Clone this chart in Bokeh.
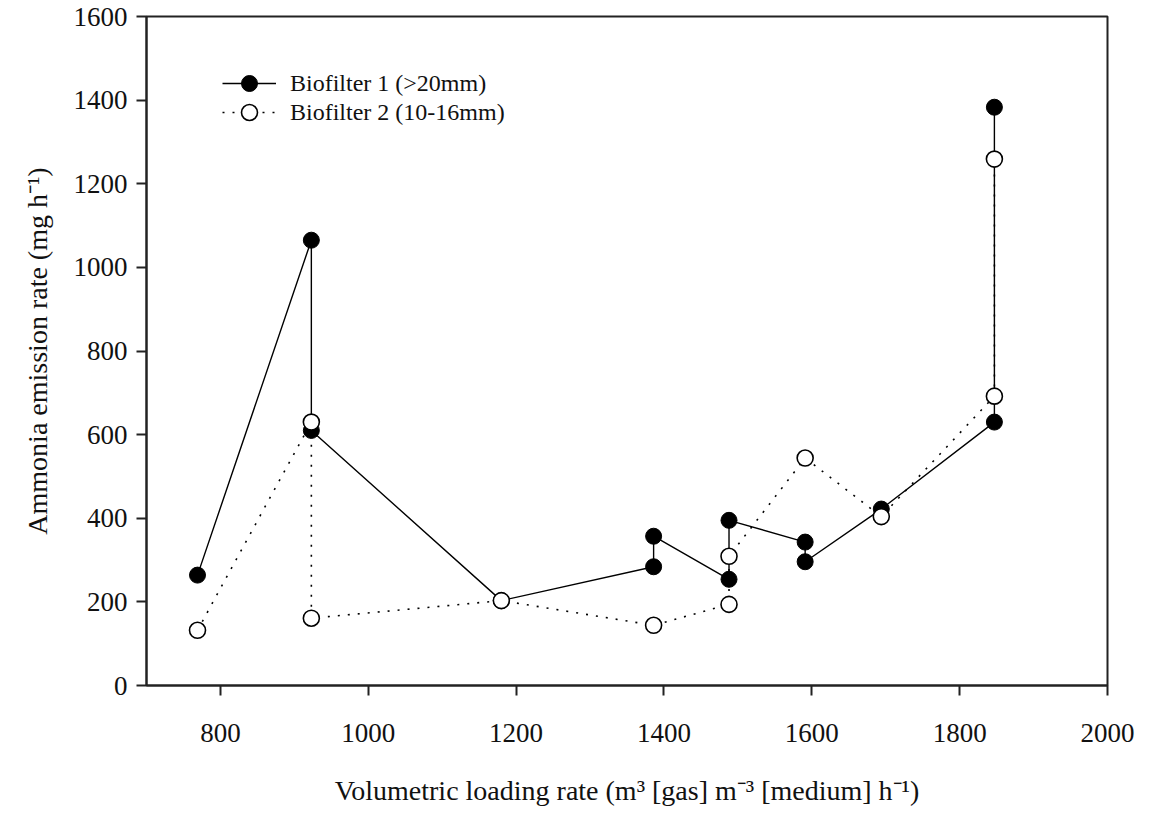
from bokeh.plotting import figure
from bokeh.models import Range1d, FixedTicker, Legend, LegendItem
from bokeh.embed import file_html
from bokeh.resources import INLINE

# Data
bf1_x = [769, 923, 923, 1180, 1386, 1386, 1488, 1488, 1591, 1591, 1694, 1847, 1847]
bf1_y = [264, 1065, 610, 203, 284, 357, 254, 395, 343, 296, 422, 630, 1383]
bf2_x = [769, 923, 923, 1180, 1386, 1488, 1488, 1591, 1694, 1847, 1847]
bf2_y = [132, 630, 161, 203, 144, 194, 309, 544, 404, 692, 1259]

x_ticks = [800, 1000, 1200, 1400, 1600, 1800, 2000]
y_ticks = [0, 200, 400, 600, 800, 1000, 1200, 1400, 1600]

series1_label = "Biofilter 1 (>20mm)"
series2_label = "Biofilter 2 (10-16mm)"
x_title = "Volumetric loading rate (m³ [gas] m⁻³ [medium] h⁻¹)"
y_title = "Ammonia emission rate (mg h⁻¹)"

FONT = "Liberation Serif"
INK = "#111111"

p = figure(width=1137, height=810,
           x_range=Range1d(700, 2000), y_range=Range1d(0, 1600),
           output_backend="svg", toolbar_location=None,
           min_border_left=146, min_border_right=30,
           min_border_top=16, min_border_bottom=125)

p.xgrid.visible = False
p.ygrid.visible = False
p.outline_line_color = "#222222"
p.outline_line_width = 2
p.background_fill_color = "white"
p.border_fill_color = "white"

p.xaxis.ticker = FixedTicker(ticks=x_ticks)
p.yaxis.ticker = FixedTicker(ticks=y_ticks)
for ax in (p.xaxis[0], p.yaxis[0]):
    ax.axis_line_color = "#222222"
    ax.axis_line_width = 2
    ax.major_tick_line_color = "#222222"
    ax.major_tick_line_width = 2
    ax.major_tick_in = 0
    ax.major_tick_out = 10
    ax.minor_tick_line_color = None
    ax.major_label_text_font = FONT
    ax.major_label_text_font_size = "27px"
    ax.major_label_text_color = INK
    ax.axis_label_text_font = FONT
    ax.axis_label_text_font_size = "28px"
    ax.axis_label_text_font_style = "normal"
    ax.axis_label_text_color = INK

p.xaxis.major_label_standoff = 28
p.yaxis.major_label_standoff = 9
p.xaxis.axis_label = x_title
p.yaxis.axis_label = y_title
p.xaxis.axis_label_standoff = 30
p.yaxis.axis_label_standoff = 18

l1 = p.line(bf1_x, bf1_y, line_color="black", line_width=1.4)
l2 = p.line(bf2_x, bf2_y, line_color="black", line_width=1.6, line_dash="2 8")
m1 = p.scatter(bf1_x, bf1_y, marker="circle", size=16,
               fill_color="black", line_color="black", line_width=1)
m2 = p.scatter(bf2_x, bf2_y, marker="circle", size=16,
               fill_color="white", line_color="black", line_width=1.6)


def make_legend(label, renderers, loc):
    lg = Legend(items=[LegendItem(label=label, renderers=renderers)], location=loc)
    lg.margin = 0
    lg.padding = 0
    lg.spacing = 0
    lg.glyph_width = 54
    lg.glyph_height = 40
    lg.label_height = 24
    lg.label_standoff = 14
    lg.label_text_font = FONT
    lg.label_text_font_size = "24px"
    lg.label_text_color = INK
    lg.border_line_color = None
    lg.background_fill_alpha = 0
    return lg


p.add_layout(make_legend(series1_label, [l1, m1], (76, 582)))
p.add_layout(make_legend(series2_label, [l2, m2], (76, 553)))

open("out.html", "w").write(file_html(p, INLINE))
